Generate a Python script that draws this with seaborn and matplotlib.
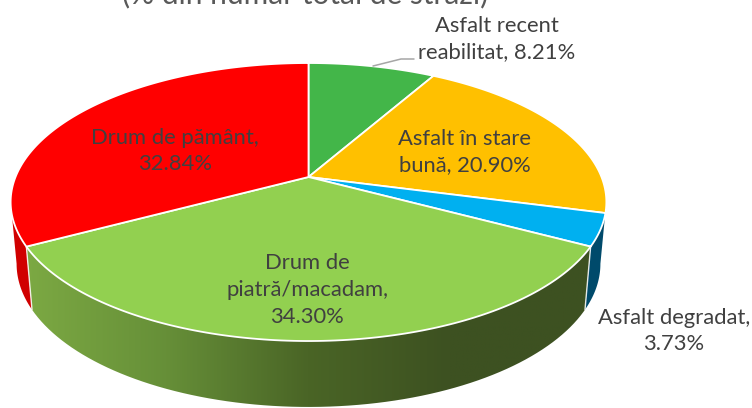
import numpy as np
import matplotlib
matplotlib.use("Agg")
import matplotlib.pyplot as plt
import seaborn as sns
from matplotlib.path import Path
from matplotlib.patches import PathPatch
from matplotlib.transforms import Transform, Affine2D
from matplotlib.colors import LinearSegmentedColormap

title_text = "(% din număr total de străzi)"
categories = ["Asfalt recent\nreabilitat,", "Asfalt în stare\nbună,", "Asfalt degradat,\n",
              "Drum de\npiatră/macadam,\n", "Drum de pământ,\n"]
values = [8.21, 20.90, 3.73, 34.30, 32.84]
top_colors = ["#43B649", "#FFC000", "#00B0F0", "#92D050", "#FF0000"]
wall_colors = {"blue": "#004A6B", "red": "#D00000"}
gradient_colors = ["#7CA943", "#668F38", "#4A6526", "#3D5121", "#3D5121"]

sns.set_theme(style="white")
plt.rcParams["font.family"] = ["Lato", "DejaVu Sans"]

# perspective view of the disc, in pixel-like data units
CX, CY, A, B, K = 308.5, 177.0, 293.0, 134.5, 0.18
SX, SY, DY = 0.98, 1.03, 61.0


class Perspective(Transform):
    input_dims = 2
    output_dims = 2

    def __init__(self, sx=1.0, sy=1.0, dy=0.0):
        super().__init__()
        self.sx, self.sy, self.dy = sx, sy, dy

    def transform_non_affine(self, xy):
        xy = np.asarray(xy, dtype=float)
        den = 1 + K * xy[:, 1]
        return np.column_stack([CX + self.sx * A * xy[:, 0] / den,
                                CY + self.dy - self.sy * B * xy[:, 1] / den])

    def transform_path_non_affine(self, path):
        flat = path.transformed(Affine2D().scale(2000)).to_polygons(closed_only=False)[0] / 2000
        return Path(self.transform_non_affine(flat))


top = Perspective()
low = Perspective(SX, SY, DY)


def rim(t, proj):
    a = np.radians(np.asarray(t))
    return proj.transform_non_affine(np.column_stack([np.sin(a), np.cos(a)]))


def wall_path(t0, t1):
    t = np.linspace(t0, t1, 160)
    return Path(np.vstack([rim(t, top), rim(t[::-1], low)]), closed=False)


fig, ax = plt.subplots(figsize=(7.52, 4.08), dpi=100)
fig.subplots_adjust(0, 0, 1, 1)

wedges, _ = ax.pie(values, colors=sns.color_palette(top_colors), startangle=90, counterclock=False,
                   wedgeprops=dict(edgecolor="white", linewidth=1.3, zorder=4))
for w in wedges:
    w.set_transform(top + ax.transData)
    w.set_clip_on(False)

edges = np.cumsum(values) / np.sum(values) * 360
t_blue1, t_green1 = edges[2], edges[3]
t_right = np.degrees(np.arccos(-K))      # silhouette of the disc, right side
t_left = 360 - t_right                   # silhouette of the disc, left side

ax.add_patch(PathPatch(wall_path(t_right, t_blue1), fc=wall_colors["blue"], ec="none", zorder=1))
ax.add_patch(PathPatch(wall_path(t_green1, t_left), fc=wall_colors["red"], ec="none", zorder=1))

green_wall = PathPatch(wall_path(t_blue1, t_green1), fc="none", ec="none", zorder=2)
ax.add_patch(green_wall)
cmap = LinearSegmentedColormap.from_list("side", gradient_colors)
img = ax.imshow(np.linspace(0, 1, 256)[None, :], cmap=cmap, aspect="auto", extent=(25, 590, 410, 245), zorder=2)
img.set_clip_path(green_wall)

for t in (t_blue1, t_green1):
    p = np.vstack([rim([t], top), rim([t], low)])
    ax.plot(p[:, 0], p[:, 1], color="white", lw=1.0, zorder=3, alpha=0.85)

ax.set_aspect("auto")
ax.set_xlim(0, 752)
ax.set_ylim(408, 0)
ax.axis("off")

ax.text(305.5, 3.5, title_text, fontsize=21.5, color="#595959", ha="center", va="baseline", clip_on=False)

label_pos = [(497, 39), (465, 152), (674, 331), (307, 290), (175, 151)]
for cat, val, (x, y) in zip(categories, values, label_pos):
    sep = "" if cat.endswith("\n") else " "
    ax.text(x, y, f"{cat}{sep}{val:.2f}%", fontsize=15.8, color="#404040", ha="center", va="center",
            linespacing=1.42, zorder=6)

ax.plot([373, 401, 414], [66, 59, 59], color="#A6A6A6", lw=1.1, zorder=5)

fig.savefig("out.png", dpi=100)
